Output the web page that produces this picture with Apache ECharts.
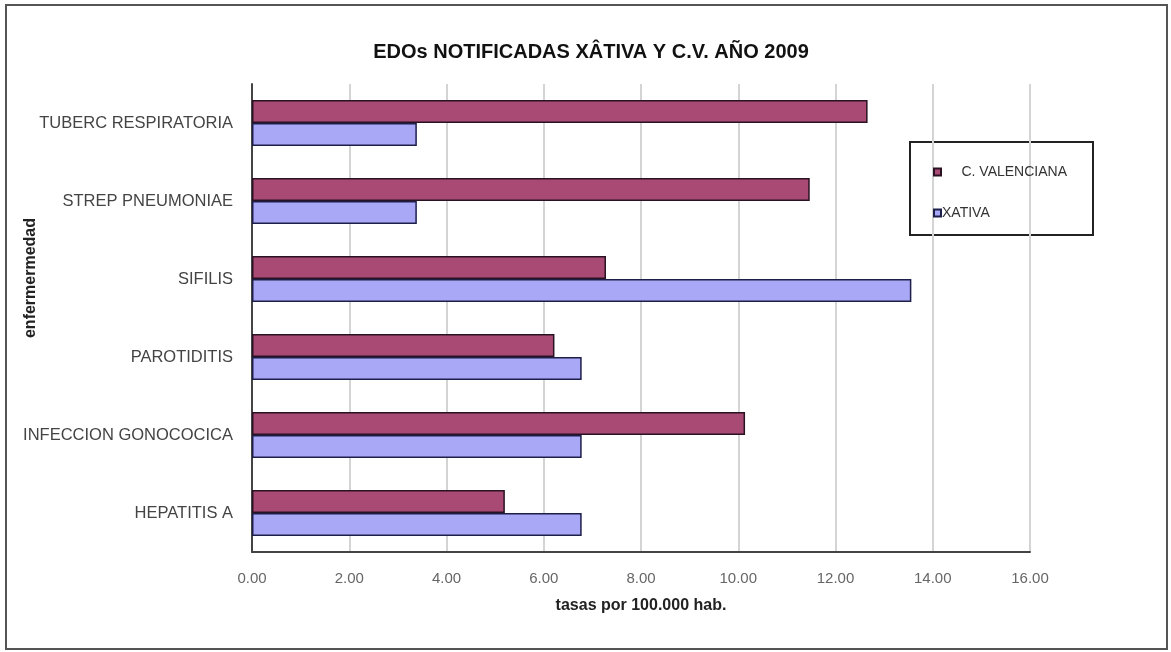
<!DOCTYPE html>
<html>
<head>
<meta charset="utf-8">
<script src="https://cdn.jsdelivr.net/npm/echarts@6/dist/echarts.min.js"></script>
<style>
  html, body { margin: 0; padding: 0; background: #fff; }
  #chart { width: 1171px; height: 652px; }
</style>
</head>
<body>
<div id="chart"></div>
<script>
var categories = ['TUBERC RESPIRATORIA', 'STREP PNEUMONIAE', 'SIFILIS', 'PAROTIDITIS', 'INFECCION GONOCOCICA', 'HEPATITIS A'];
var cValenciana = [12.66, 11.47, 7.28, 6.22, 10.14, 5.20];
var xativa = [3.39, 3.39, 13.56, 6.78, 6.78, 6.78];
var xTicks = [0, 2, 4, 6, 8, 10, 12, 14, 16];

var myChart = echarts.init(document.getElementById('chart'));
var font = 'Liberation Sans, Arial, sans-serif';

var option = {
    backgroundColor: '#fff',
    animation: false,
    title: {
        text: 'EDOs NOTIFICADAS XÂTIVA Y C.V. AÑO 2009',
        left: 586,
        top: 37,
        textAlign: 'center',
        textStyle: { fontFamily: font, fontSize: 20, fontWeight: 'bold', color: '#111' }
    },
    legend: {
        orient: 'vertical',
        left: 928,
        top: 160,
        itemWidth: 7,
        itemHeight: 7,
        itemGap: 27,
        icon: 'rect',
        textStyle: { fontFamily: font, fontSize: 14, color: '#333', padding: [0, 0, 0, -4] },
        formatter: function (name) {
            return name === 'C. VALENCIANA' ? '     ' + name : name;
        },
        data: ['C. VALENCIANA', 'XATIVA']
    },
    grid: { left: 252, right: 141, top: 84, bottom: 100 },
    xAxis: {
        type: 'value',
        min: xTicks[0],
        max: xTicks[xTicks.length - 1],
        interval: 2,
        name: 'tasas por 100.000 hab.',
        nameLocation: 'middle',
        nameGap: 46,
        nameTextStyle: { fontFamily: font, fontSize: 16, fontWeight: 'bold', color: '#222' },
        axisLine: { show: true, lineStyle: { color: '#444', width: 2 } },
        axisTick: { show: false },
        axisLabel: {
            margin: 19,
            fontFamily: font, fontSize: 15, color: '#666',
            formatter: function (v) { return v.toFixed(2); }
        },
        splitLine: { show: true, lineStyle: { color: '#d4d4d4', width: 2 } }
    },
    yAxis: {
        type: 'category',
        inverse: true,
        data: categories,
        axisLine: { show: true, lineStyle: { color: '#444', width: 2 } },
        axisTick: { show: false },
        axisLabel: { margin: 19, fontFamily: font, fontSize: 16.5, color: '#444' },
        splitLine: { show: false }
    },
    series: [
        {
            name: 'C. VALENCIANA',
            type: 'bar',
            data: cValenciana,
            barGap: '0%',
            barCategoryGap: '41%',
            itemStyle: { color: '#a94a75', borderColor: '#2a1222', borderWidth: 1.5 }
        },
        {
            name: 'XATIVA',
            type: 'bar',
            data: xativa,
            barGap: '0%',
            barCategoryGap: '41%',
            itemStyle: { color: '#a8a8f6', borderColor: '#1e1e4a', borderWidth: 1.5 }
        }
    ],
    graphic: [
        {
            type: 'rect',
            shape: { x: 6, y: 5, width: 1161, height: 644 },
            style: { fill: 'none', stroke: '#555', lineWidth: 2 },
            silent: true
        },
        {
            type: 'rect',
            shape: { x: 910, y: 142, width: 183, height: 93 },
            style: { fill: 'none', stroke: '#222', lineWidth: 2 },
            silent: true
        },
        {
            type: 'text',
            x: 31,
            y: 278,
            rotation: Math.PI / 2,
            style: {
                text: 'enfermermedad',
                fontFamily: font, fontSize: 16, fontWeight: 'bold', fill: '#222',
                align: 'center', verticalAlign: 'middle'
            }
        }
    ]
};

myChart.setOption(option);
</script>
</body>
</html>
